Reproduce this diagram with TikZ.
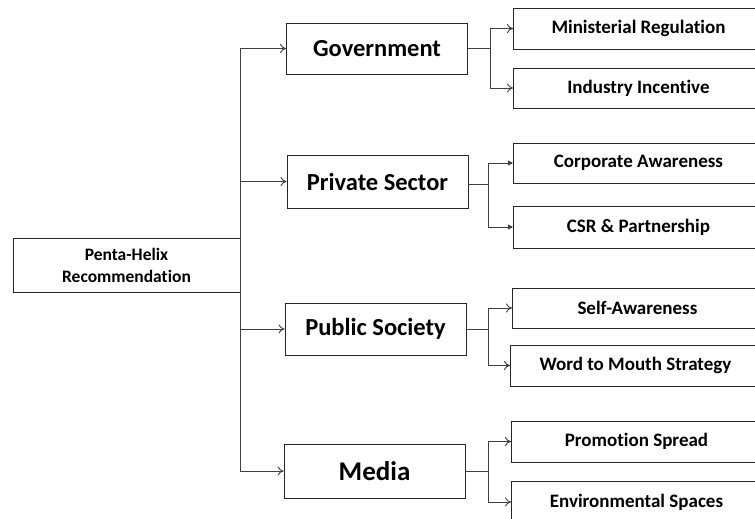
\documentclass[tikz,border=0pt]{standalone}
\usepackage{fontspec}
\setmainfont{Carlito}[Ligatures={NoCommon}]
\usetikzlibrary{arrows.meta}
\begin{document}
\begin{tikzpicture}[x=1pt,y=-1pt,
  box/.style={draw=black!85,line width=0.9pt,fill=white,inner sep=0pt,font=\bfseries,align=center},
  root/.style={box,minimum width=227pt,minimum height=54pt,font=\bfseries\fontsize{17.5}{22}\selectfont},
  lvlone/.style={box,minimum width=181pt,minimum height=53pt,font=\bfseries\fontsize{24.5}{28}\selectfont},
  lvltwo/.style={box,minimum width=250pt,minimum height=41pt,anchor=west,font=\bfseries\fontsize{19}{22}\selectfont},
  conn/.style={draw=black!75,line width=0.9pt},
  arr/.style={conn,-{To[length=6pt,width=9pt]}},
  farr/.style={conn,-{Triangle[length=5pt,width=5pt]}}]
\useasboundingbox (0,0) rectangle (755,519);
\clip (0,0) rectangle (755,519);
% root
\node[root] (root) at (126.5,265) {Penta-Helix\\Recommendation};
% level one
\node[lvlone,minimum height=51pt] (gov) at (377,48.5) {Government};
\node[lvlone] (priv) at (377.5,181.5) {Private Sector};
\node[lvlone,minimum height=52pt] (pub) at (375.5,329) {Public Society};
\node[lvlone,minimum height=54pt,font=\bfseries\fontsize{27}{30}\selectfont] (med) at (374.5,471) {Media};
% level two
\node[lvltwo] (mr) at (513,28.5) {Ministerial Regulation};
\node[lvltwo,minimum height=40pt] (ii) at (513,88) {Industry Incentive};
\node[lvltwo,minimum height=40pt] (ca) at (513,163) {Corporate Awareness};
\node[lvltwo,minimum height=42pt] (csr) at (513,227) {CSR \& Partnership};
\node[lvltwo,minimum height=40pt] (sa) at (512,308) {Self-Awareness};
\node[lvltwo] (wtm) at (510,365.5) {Word to Mouth Strategy};
\node[lvltwo] (ps) at (511,441.5) {Promotion Spread};
\node[lvltwo] (es) at (511,502) {Environmental Spaces};
% trunk
\draw[arr] (root.east) |- (gov.west);
\draw[arr] (root.east) |- (priv.west);
\draw[arr] (root.east) |- (pub.west);
\draw[arr] (root.east) |- (med.west);
% branches
\coordinate (gb) at (490,48.5);
\coordinate (pb) at (488,184.5);
\coordinate (ub) at (488,329);
\coordinate (mb) at (488,471);
\draw[arr] (gov.east) -- (gb) |- (mr.west);
\draw[arr] (gb) |- (ii.west);
\draw[conn] (priv.east |- pb) -- (pb);
\draw[farr] (pb) |- (ca.west);
\draw[farr] (pb) |- (csr.west);
\draw[arr] (pub.east) -- (ub) |- (sa.west);
\draw[arr] (ub) |- (wtm.west);
\draw[arr] (med.east) -- (mb) |- (ps.west);
\draw[arr] (mb) |- (es.west);
\end{tikzpicture}
\end{document}
